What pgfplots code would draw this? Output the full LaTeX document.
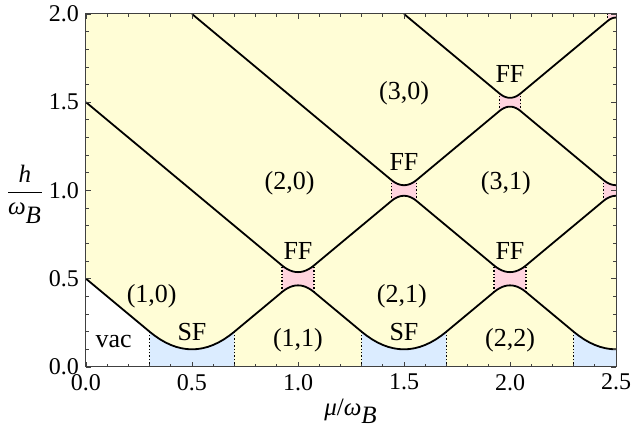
\documentclass[border=0pt]{standalone}
\usepackage{fontspec}
\setmainfont{Liberation Serif}
\usepackage{pgfplots}
\pgfplotsset{compat=1.18}
\definecolor{phyellow}{RGB}{255,253,214}
\definecolor{phpink}{RGB}{255,212,222}
\definecolor{phblue}{RGB}{219,236,255}
\newcommand{\lbl}{\fontsize{13}{15}\selectfont}

\begin{document}
\begin{tikzpicture}
\useasboundingbox (-43pt,-35pt) rectangle (272.5pt,183.5pt);
\begin{axis}[
  scale only axis, width=265pt, height=176.5pt,
  xmin=0, xmax=2.5, ymin=0, ymax=2,
  xtick={0,0.5,1,1.5,2,2.5}, ytick={0,0.5,1,1.5,2},
  minor x tick num=4, minor y tick num=4,
  tick align=inside, xtick pos=both, ytick pos=both,
  major tick length=2.6pt, minor tick length=1.6pt,
  every tick/.style={black!75, line width=0.4pt},
  axis line style={black!75, line width=0.5pt},
  axis background/.style={fill=phyellow},
  axis on top,
  tick label style={font=\fontsize{12}{14}\selectfont},
  /pgf/number format/fixed, /pgf/number format/fixed zerofill,
  /pgf/number format/precision=1, /pgf/number format/assume math mode=true,
  xlabel={\textit{μ}/\textit{ω}$_{\textit{B}}$},
  ylabel={$\displaystyle\frac{\textit{h}}{\textit{ω}_{\textit{B}}}$},
  every axis x label/.style={at={(rel axis cs:0.5,0)}, anchor=center, yshift=-22pt, font=\fontsize{12.5}{14}\selectfont},
  every axis y label/.style={at={(rel axis cs:0,0.49)}, anchor=center, xshift=-30.5pt, font=\fontsize{12.5}{14}\selectfont},
]
% vacuum
\addplot[fill=white, draw=none] coordinates {(0,0) (0,0.5) (0.3,0.2) (0.3,0)} -- cycle;
% SF regions
\addplot[fill=phblue, draw=none] coordinates {(0.3,0) (0.3,0.2) (0.325,0.1766) (0.35,0.1563) (0.375,0.1391) (0.4,0.125) (0.425,0.1141) (0.45,0.1063) (0.475,0.1016) (0.5,0.1) (0.525,0.1016) (0.55,0.1063) (0.575,0.1141) (0.6,0.125) (0.625,0.1391) (0.65,0.1563) (0.675,0.1766) (0.7,0.2) (0.7,0)} -- cycle;
\addplot[fill=phblue, draw=none] coordinates {(1.3,0) (1.3,0.2) (1.325,0.1766) (1.35,0.1563) (1.375,0.1391) (1.4,0.125) (1.425,0.1141) (1.45,0.1063) (1.475,0.1016) (1.5,0.1) (1.525,0.1016) (1.55,0.1063) (1.575,0.1141) (1.6,0.125) (1.625,0.1391) (1.65,0.1563) (1.675,0.1766) (1.7,0.2) (1.7,0)} -- cycle;
\addplot[fill=phblue, draw=none] coordinates {(2.3,0) (2.3,0.2) (2.325,0.1766) (2.35,0.1563) (2.375,0.1391) (2.4,0.125) (2.425,0.1141) (2.45,0.1063) (2.475,0.1016) (2.5,0.1) (2.5,0)} -- cycle;
% FF regions
\addplot[fill=phpink, draw=none] coordinates {(0.925,0.425) (0.9375,0.4365) (0.95,0.4458) (0.9625,0.4531) (0.975,0.4583) (0.9875,0.4615) (1,0.4625) (1.0125,0.4615) (1.025,0.4583) (1.0375,0.4531) (1.05,0.4458) (1.0625,0.4365) (1.075,0.425)
  (1.075,0.575) (1.0625,0.5635) (1.05,0.5542) (1.0375,0.5469) (1.025,0.5417) (1.0125,0.5385) (1,0.5375) (0.9875,0.5385) (0.975,0.5417) (0.9625,0.5469) (0.95,0.5542) (0.9375,0.5635) (0.925,0.575)} -- cycle;
\addplot[fill=phpink, draw=none] coordinates {(1.925,0.425) (1.9375,0.4365) (1.95,0.4458) (1.9625,0.4531) (1.975,0.4583) (1.9875,0.4615) (2,0.4625) (2.0125,0.4615) (2.025,0.4583) (2.0375,0.4531) (2.05,0.4458) (2.0625,0.4365) (2.075,0.425)
  (2.075,0.575) (2.0625,0.5635) (2.05,0.5542) (2.0375,0.5469) (2.025,0.5417) (2.0125,0.5385) (2,0.5375) (1.9875,0.5385) (1.975,0.5417) (1.9625,0.5469) (1.95,0.5542) (1.9375,0.5635) (1.925,0.575)} -- cycle;
\addplot[fill=phpink, draw=none] coordinates {(1.44,0.94) (1.45,0.9492) (1.46,0.9567) (1.47,0.9625) (1.48,0.9667) (1.49,0.9692) (1.5,0.97) (1.51,0.9692) (1.52,0.9667) (1.53,0.9625) (1.54,0.9567) (1.55,0.9492) (1.56,0.94)
  (1.56,1.06) (1.55,1.0508) (1.54,1.0433) (1.53,1.0375) (1.52,1.0333) (1.51,1.0308) (1.5,1.03) (1.49,1.0308) (1.48,1.0333) (1.47,1.0375) (1.46,1.0433) (1.45,1.0508) (1.44,1.06)} -- cycle;
\addplot[fill=phpink, draw=none] coordinates {(2.44,0.94) (2.45,0.9492) (2.46,0.9567) (2.47,0.9625) (2.48,0.9667) (2.49,0.9692) (2.5,0.97)
  (2.5,1.03) (2.49,1.0308) (2.48,1.0333) (2.47,1.0375) (2.46,1.0433) (2.45,1.0508) (2.44,1.06)} -- cycle;
\addplot[fill=phpink, draw=none] coordinates {(1.95,1.45) (1.96,1.459) (1.97,1.466) (1.98,1.471) (1.99,1.474) (2,1.475) (2.01,1.474) (2.02,1.471) (2.03,1.466) (2.04,1.459) (2.05,1.45)
  (2.05,1.55) (2.04,1.541) (2.03,1.534) (2.02,1.529) (2.01,1.526) (2,1.525) (1.99,1.526) (1.98,1.529) (1.97,1.534) (1.96,1.541) (1.95,1.55)} -- cycle;
\addplot[fill=phpink, draw=none] coordinates {(2.46,1.96) (2.47,1.9688) (2.48,1.975) (2.49,1.9788) (2.5,1.98) (2.5,2) (2.46,2)} -- cycle;
% phase boundaries
\addplot[black, line width=0.9pt] coordinates {(0,0.5) (0.3,0.2) (0.325,0.1766) (0.35,0.1563) (0.375,0.1391) (0.4,0.125) (0.425,0.1141) (0.45,0.1063) (0.475,0.1016) (0.5,0.1) (0.525,0.1016) (0.55,0.1063) (0.575,0.1141) (0.6,0.125) (0.625,0.1391) (0.65,0.1563) (0.675,0.1766) (0.7,0.2)
  (0.925,0.425) (0.9375,0.4365) (0.95,0.4458) (0.9625,0.4531) (0.975,0.4583) (0.9875,0.4615) (1,0.4625) (1.0125,0.4615) (1.025,0.4583) (1.0375,0.4531) (1.05,0.4458) (1.0625,0.4365) (1.075,0.425)
  (1.3,0.2) (1.325,0.1766) (1.35,0.1563) (1.375,0.1391) (1.4,0.125) (1.425,0.1141) (1.45,0.1063) (1.475,0.1016) (1.5,0.1) (1.525,0.1016) (1.55,0.1063) (1.575,0.1141) (1.6,0.125) (1.625,0.1391) (1.65,0.1563) (1.675,0.1766) (1.7,0.2)
  (1.925,0.425) (1.9375,0.4365) (1.95,0.4458) (1.9625,0.4531) (1.975,0.4583) (1.9875,0.4615) (2,0.4625) (2.0125,0.4615) (2.025,0.4583) (2.0375,0.4531) (2.05,0.4458) (2.0625,0.4365) (2.075,0.425)
  (2.3,0.2) (2.325,0.1766) (2.35,0.1563) (2.375,0.1391) (2.4,0.125) (2.425,0.1141) (2.45,0.1063) (2.475,0.1016) (2.5,0.1)};
\addplot[black, line width=0.9pt] coordinates {(0,1.5) (0.925,0.575) (0.9375,0.5635) (0.95,0.5542) (0.9625,0.5469) (0.975,0.5417) (0.9875,0.5385) (1,0.5375) (1.0125,0.5385) (1.025,0.5417) (1.0375,0.5469) (1.05,0.5542) (1.0625,0.5635) (1.075,0.575)
  (1.44,0.94) (1.45,0.9492) (1.46,0.9567) (1.47,0.9625) (1.48,0.9667) (1.49,0.9692) (1.5,0.97) (1.51,0.9692) (1.52,0.9667) (1.53,0.9625) (1.54,0.9567) (1.55,0.9492) (1.56,0.94)
  (1.925,0.575) (1.9375,0.5635) (1.95,0.5542) (1.9625,0.5469) (1.975,0.5417) (1.9875,0.5385) (2,0.5375) (2.0125,0.5385) (2.025,0.5417) (2.0375,0.5469) (2.05,0.5542) (2.0625,0.5635) (2.075,0.575)
  (2.44,0.94) (2.45,0.9492) (2.46,0.9567) (2.47,0.9625) (2.48,0.9667) (2.49,0.9692) (2.5,0.97)};
\addplot[black, line width=0.9pt] coordinates {(0.5,2) (1.44,1.06) (1.45,1.0508) (1.46,1.0433) (1.47,1.0375) (1.48,1.0333) (1.49,1.0308) (1.5,1.03) (1.51,1.0308) (1.52,1.0333) (1.53,1.0375) (1.54,1.0433) (1.55,1.0508) (1.56,1.06)
  (1.95,1.45) (1.96,1.459) (1.97,1.466) (1.98,1.471) (1.99,1.474) (2,1.475) (2.01,1.474) (2.02,1.471) (2.03,1.466) (2.04,1.459) (2.05,1.45)
  (2.44,1.06) (2.45,1.0508) (2.46,1.0433) (2.47,1.0375) (2.48,1.0333) (2.49,1.0308) (2.5,1.03)};
\addplot[black, line width=0.9pt] coordinates {(1.5,2) (1.95,1.55) (1.96,1.541) (1.97,1.534) (1.98,1.529) (1.99,1.526) (2,1.525) (2.01,1.526) (2.02,1.529) (2.03,1.534) (2.04,1.541) (2.05,1.55)
  (2.46,1.96) (2.47,1.9688) (2.48,1.975) (2.49,1.9788) (2.5,1.98)};
% dotted region edges
\addplot[black, densely dotted, line width=0.7pt] coordinates {(0.3,0) (0.3,0.2)};
\addplot[black, densely dotted, line width=0.7pt] coordinates {(0.7,0) (0.7,0.2)};
\addplot[black, densely dotted, line width=0.7pt] coordinates {(1.3,0) (1.3,0.2)};
\addplot[black, densely dotted, line width=0.7pt] coordinates {(1.7,0) (1.7,0.2)};
\addplot[black, densely dotted, line width=0.7pt] coordinates {(2.3,0) (2.3,0.2)};
\addplot[black, densely dotted, line width=0.7pt] coordinates {(0.925,0.425) (0.925,0.575)};
\addplot[black, densely dotted, line width=0.7pt] coordinates {(1.075,0.425) (1.075,0.575)};
\addplot[black, densely dotted, line width=0.7pt] coordinates {(1.925,0.425) (1.925,0.575)};
\addplot[black, densely dotted, line width=0.7pt] coordinates {(2.075,0.425) (2.075,0.575)};
\addplot[black, densely dotted, line width=0.7pt] coordinates {(1.44,0.94) (1.44,1.06)};
\addplot[black, densely dotted, line width=0.7pt] coordinates {(1.56,0.94) (1.56,1.06)};
\addplot[black, densely dotted, line width=0.7pt] coordinates {(2.44,0.94) (2.44,1.06)};
\addplot[black, densely dotted, line width=0.7pt] coordinates {(1.95,1.45) (1.95,1.55)};
\addplot[black, densely dotted, line width=0.7pt] coordinates {(2.05,1.45) (2.05,1.55)};
\addplot[black, densely dotted, line width=0.7pt] coordinates {(2.46,1.96) (2.46,2)};
% phase labels
\node[font=\lbl] at (axis cs:0.13,0.143) {vac};
\node[font=\lbl] at (axis cs:0.5,0.2) {SF};
\node[font=\lbl] at (axis cs:1.5,0.2) {SF};
\node[font=\lbl] at (axis cs:1.0,0.15) {(1,1)};
\node[font=\lbl] at (axis cs:2.0,0.15) {(2,2)};
\node[font=\lbl] at (axis cs:0.31,0.40) {(1,0)};
\node[font=\lbl] at (axis cs:1.49,0.40) {(2,1)};
\node[font=\lbl] at (axis cs:0.96,1.04) {(2,0)};
\node[font=\lbl] at (axis cs:1.98,1.04) {(3,1)};
\node[font=\lbl] at (axis cs:1.50,1.55) {(3,0)};
\node[font=\lbl] at (axis cs:1.0,0.66) {FF};
\node[font=\lbl] at (axis cs:2.0,0.66) {FF};
\node[font=\lbl] at (axis cs:1.5,1.16) {FF};
\node[font=\lbl] at (axis cs:2.0,1.66) {FF};
\end{axis}
\end{tikzpicture}
\end{document}
